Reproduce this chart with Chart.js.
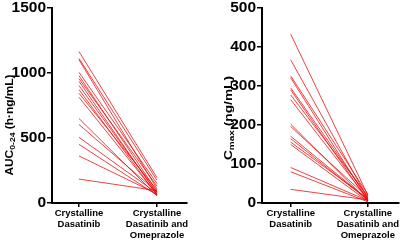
<!DOCTYPE html>
<html>
<head>
<meta charset="utf-8">
<script src="https://cdn.jsdelivr.net/npm/chart.js@4"></script>
<style>
  body { margin: 0; background: #fff; }
  #wrap { display: flex; width: 400px; height: 241px; }
</style>
</head>
<body>
<div id="wrap">
  <canvas id="auc" width="200" height="241"></canvas>
  <canvas id="cmax" width="200" height="241"></canvas>
</div>
<script>
// x categories (tick labels, one array per line)
const categories = [
  ['Crystalline', 'Dasatinib'],
  ['Crystalline', 'Dasatinib and', 'Omeprazole']
];
// AUC0-24 (h·ng/mL), one value per subject
const aucAlone = [1165, 1112, 1102, 1005, 979, 956, 936, 903, 872, 844, 813, 650, 604, 505, 451, 362, 184];
const aucOmep  = [195, 175, 110, 150, 90, 130, 70, 80, 60, 100, 65, 55, 85, 75, 60, 70, 95];
// Cmax (ng/mL)
const cmaxAlone = [433, 367, 326, 321, 295, 290, 277, 265, 202, 196, 171, 165, 156, 150, 91, 80, 35];
const cmaxOmep  = [20, 12, 22, 8, 15, 6, 18, 10, 5, 14, 9, 7, 11, 4, 6, 3, 8];

Chart.defaults.font.family = '"Liberation Sans", Arial, sans-serif';
Chart.defaults.color = '#000';

function pairs(a, b) {
  return a.map((v, i) => ({
    data: [{ x: 0, y: v }, { x: 1, y: b[i] }],
    borderColor: 'rgba(235,0,0,0.75)',
    borderWidth: 1,
    pointRadius: 0,
    tension: 0
  }));
}

// rotated y title with a subscript part
function yTitle(parts, cx, cy, stretch) {
  return {
    id: 'yTitle',
    afterDraw(chart) {
      const ctx = chart.ctx;
      ctx.save();
      let w = 0;
      parts.forEach(p => {
        ctx.font = 'bold ' + (p.sub ? 8 : 11) + 'px "Liberation Sans", Arial, sans-serif';
        w += ctx.measureText(p.t).width;
      });
      ctx.translate(cx, cy);
      ctx.rotate(-Math.PI / 2);
      ctx.scale(stretch, 1);
      ctx.fillStyle = '#000';
      ctx.textBaseline = 'middle';
      let x = -w / 2;
      parts.forEach(p => {
        ctx.font = 'bold ' + (p.sub ? 8 : 11) + 'px "Liberation Sans", Arial, sans-serif';
        ctx.fillText(p.t, x, p.sub ? 3 : 0);
        x += ctx.measureText(p.t).width;
      });
      ctx.restore();
    }
  };
}

function makeChart(id, before, after, yMax, yStep, axisW, xMin, xMax, padRight, title) {
  return new Chart(document.getElementById(id), {
    type: 'line',
    data: { datasets: pairs(before, after) },
    options: {
      responsive: false,
      animation: false,
      plugins: { legend: { display: false }, tooltip: { enabled: false } },
      layout: { padding: { top: 0, right: padRight, left: 0, bottom: 0 } },
      scales: {
        x: {
          type: 'linear',
          min: xMin,
          max: xMax,
          afterBuildTicks: s => { s.ticks = [{ value: 0 }, { value: 1 }]; },
          afterFit: s => { s.height = 38; },
          ticks: {
            callback: (v, i) => categories[i],
            font: { size: 9.5, weight: 'bold', lineHeight: 1.15 },
            padding: 1,
            maxRotation: 0,
            autoSkip: false
          },
          grid: { drawOnChartArea: false, tickLength: 4, color: '#000', lineWidth: 1.5 },
          border: { color: '#000', width: 2 }
        },
        y: {
          min: 0,
          max: yMax,
          afterFit: s => { s.width = axisW; },
          ticks: {
            stepSize: yStep,
            callback: v => String(v),
            font: { size: 15.5, weight: 'bold', lineHeight: 0.9 },
            padding: 1
          },
          grid: { drawOnChartArea: false, tickLength: 5, color: '#000', lineWidth: 1.5 },
          border: { color: '#000', width: 2 }
        }
      }
    },
    plugins: [title]
  });
}

makeChart('auc', aucAlone, aucOmep, 1500, 500, 52, -0.346, 1.385, 13,
  yTitle([{ t: 'AUC' }, { t: '0-24', sub: true }, { t: ' (h\u00b7ng/mL)' }], 10, 125, 1.08));
makeChart('cmax', cmaxAlone, cmaxOmep, 500, 100, 62, -0.372, 1.397, 0,
  yTitle([{ t: 'C' }, { t: 'max', sub: true }, { t: ' (ng/mL)' }], 29, 118, 1.25));
</script>
</body>
</html>
